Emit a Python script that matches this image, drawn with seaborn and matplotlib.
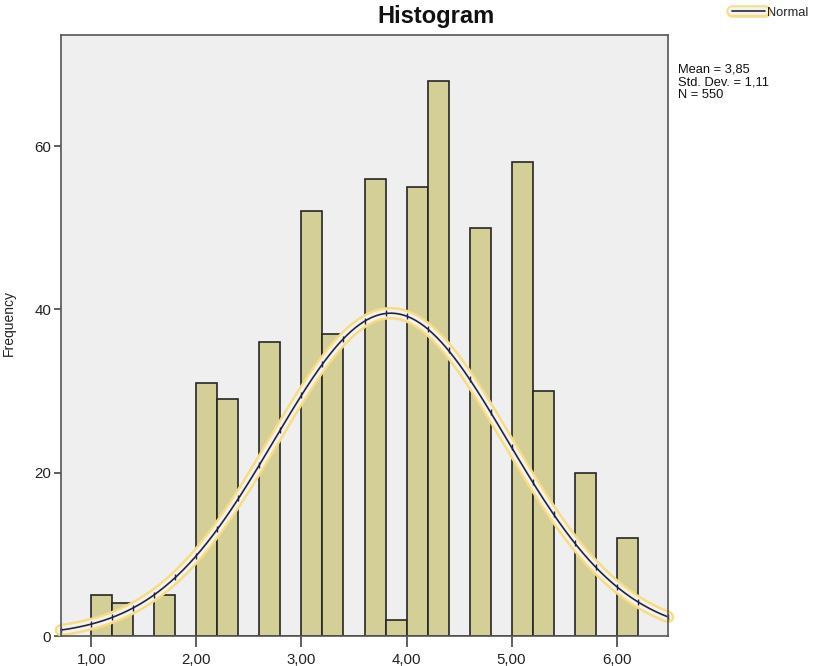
import matplotlib.pyplot as plt
import matplotlib.patheffects as pe
import seaborn as sns
import numpy as np
import pandas as pd

# Histogram counts (bin width 0,20)
bin_left = [1.0, 1.2, 1.4, 1.6, 1.8, 2.0, 2.2, 2.4, 2.6, 2.8, 3.0, 3.2, 3.4,
            3.6, 3.8, 4.0, 4.2, 4.4, 4.6, 4.8, 5.0, 5.2, 5.4, 5.6, 5.8, 6.0]
counts = [5, 4, 0, 5, 0, 31, 29, 0, 36, 0, 52, 37, 0,
          56, 2, 55, 68, 0, 50, 0, 58, 30, 0, 20, 0, 12]
bin_width = 0.2

# Summary stats shown in the chart
mean = 3.85
std = 1.11
n = 550

x_ticks = [1, 2, 3, 4, 5, 6]
x_tick_labels = ["1,00", "2,00", "3,00", "4,00", "5,00", "6,00"]
y_ticks = [0, 20, 40, 60]

df = pd.DataFrame({"value": np.array(bin_left) + bin_width / 2, "count": counts})
edges = np.append(np.array(bin_left), bin_left[-1] + bin_width)

sns.set_style("white")
plt.rcParams['font.family'] = ['Liberation Sans', 'DejaVu Sans']

fig = plt.figure(figsize=(8.17, 6.66), dpi=100)
ax = fig.add_axes([61 / 817, 1 - 636 / 666, (668 - 61) / 817, (636 - 35) / 666])
ax.set_facecolor("#efefef")

sns.histplot(data=df, x="value", weights="count", binwidth=bin_width,
             binrange=(bin_left[0], bin_left[-1] + bin_width), ax=ax,
             color="#d3cf96", alpha=1, edgecolor="#262626", linewidth=1.2)

# Fitted normal curve scaled to counts
x_min, x_max = 0.71, 6.49
xs = np.linspace(x_min, x_max, 300)
pdf = lambda v: n * bin_width * np.exp(-0.5 * ((v - mean) / std) ** 2) / (std * np.sqrt(2 * np.pi))
glow = [pe.Stroke(linewidth=9, foreground="#f7dc84", capstyle="round"),
        pe.Stroke(linewidth=5.5, foreground="#f5f3e8", capstyle="round"),
        pe.Normal()]
sns.lineplot(x=xs, y=pdf(xs), ax=ax, color="#23234a", linewidth=1.2,
             path_effects=glow, label="Normal", legend=False, clip_on=False)
mk = np.concatenate([[x_min], edges[(edges > x_min) & (edges < x_max)], [x_max]])
ax.plot(mk, pdf(mk), linestyle="none", marker="|", markersize=5,
        color="#23234a", markeredgewidth=1, clip_on=False)

ax.set_xlim(x_min, x_max)
ax.set_ylim(0, 73.6)
ax.set_xticks(x_ticks)
ax.set_xticklabels(x_tick_labels)
ax.set_yticks(y_ticks)
ax.tick_params(axis="both", direction="out", width=1.2, color="#444444",
               labelsize=10.8, labelcolor="#222222", bottom=True, left=True)
ax.tick_params(axis="x", length=8, pad=4)
ax.tick_params(axis="y", length=5, pad=2)
for s in ax.spines.values():
    s.set_color("#555555")
    s.set_linewidth(1.2)
ax.set_xlabel("")
ax.set_ylabel("Frequency", fontsize=10, color="#222222")
ax.yaxis.set_label_coords(-0.075, 0.52)

fig.text(436 / 817, 1 - 17 / 666, "Histogram", ha="center", va="center",
         fontsize=17, fontweight="bold", color="#111111")
fig.text(678 / 817, 1 - 64 / 666, "Mean = 3,85\nStd. Dev. = 1,11\nN = 550",
         ha="left", va="top", fontsize=9.3, linespacing=1.05, color="#111111")

handles, labels = ax.get_legend_handles_labels()
fig.legend(handles[:1], labels[:1], loc="center right", bbox_to_anchor=(1.0, 1 - 13 / 666),
           frameon=False, fontsize=9.3, handlelength=2.6, handletextpad=0.1, borderpad=0.2)

fig.savefig("out.png", dpi=100, facecolor="white")
